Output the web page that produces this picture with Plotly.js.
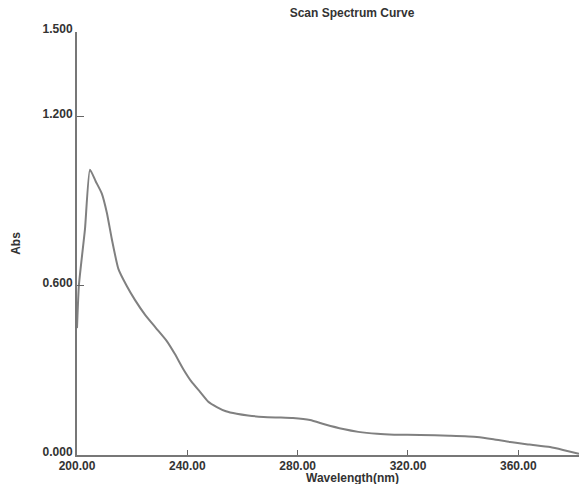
<!DOCTYPE html>
<html>
<head>
<meta charset="utf-8">
<script src="https://cdn.plot.ly/plotly-3.0.1.min.js"></script>
<style>html,body{margin:0;padding:0;background:#fff;}#chart{width:579px;height:484px;}</style>
</head>
<body>
<div id="chart"></div>
<script>
const wavelength = [200, 200.7, 202.9, 204.7, 206.8, 209, 210.8, 212.6, 215, 218, 221, 224.7, 228.5, 232.5, 235.5, 238.5, 241.5, 244.6, 247.5, 250.7, 254, 257.9, 262, 267.6, 273, 278.3, 284.5, 290, 296.5, 302, 308.8, 315, 324.4, 335, 345, 351, 357, 364, 371.5, 376.2, 382];
const absorbance = [0.45, 0.603, 0.802, 1.012, 0.97, 0.927, 0.86, 0.767, 0.66, 0.6, 0.55, 0.497, 0.452, 0.405, 0.358, 0.305, 0.26, 0.224, 0.19, 0.17, 0.155, 0.146, 0.14, 0.135, 0.133, 0.131, 0.124, 0.108, 0.092, 0.082, 0.075, 0.072, 0.071, 0.068, 0.064, 0.056, 0.046, 0.037, 0.028, 0.018, 0.004];
const yTickVals = [0, 0.6, 1.2, 1.5];
const yTickText = ["0.000", "0.600", "1.200", "1.500"];
const xTickVals = [200, 240, 280, 320, 360];
const xTickText = ["200.00", "240.00", "280.00", "320.00", "360.00"];

const fam = "Liberation Sans, Arial, sans-serif";
const tickFont = {family: fam, size: 12, color: "#333", weight: "bold"};

Plotly.newPlot("chart", [{
  x: wavelength, y: absorbance, type: "scatter", mode: "lines",
  line: {color: "#808080", width: 2, shape: "spline", smoothing: 0.5}
}], {
  width: 579, height: 484,
  margin: {l: 77, r: 0, t: 32, b: 29},
  paper_bgcolor: "#fff", plot_bgcolor: "#fff",
  showlegend: false,
  title: {text: "Scan Spectrum Curve", x: 352/579, xanchor: "center", y: 1 - 13/484, yref: "container", yanchor: "middle",
          font: {family: fam, size: 12, color: "#333", weight: "bold"}},
  xaxis: {range: [200, 382], tickvals: xTickVals, ticktext: xTickText, ticks: "inside", ticklen: 5, tickcolor: "#666",
          ticklabelstandoff: -1,
          showline: true, linecolor: "#777", linewidth: 2, showgrid: false, zeroline: false, tickfont: tickFont},
  yaxis: {range: [0, 1.5], tickvals: yTickVals, ticktext: yTickText, ticks: "inside", ticklen: 7, tickcolor: "#666",
          ticklabelshift: -3,
          showline: true, linecolor: "#777", linewidth: 2, showgrid: false, zeroline: false, tickfont: tickFont,
          title: {text: "Abs", standoff: 19, font: {family: fam, size: 12, color: "#333", weight: "bold"}}},
  annotations: [{text: "Wavelength(nm)", xref: "paper", yref: "paper", x: (352 - 77) / 502, y: -(478 - 455) / 423,
                 xanchor: "center", yanchor: "middle", showarrow: false,
                 font: {family: fam, size: 12, color: "#333", weight: "bold"}}]
}, {staticPlot: true, displayModeBar: false});
</script>
</body>
</html>
